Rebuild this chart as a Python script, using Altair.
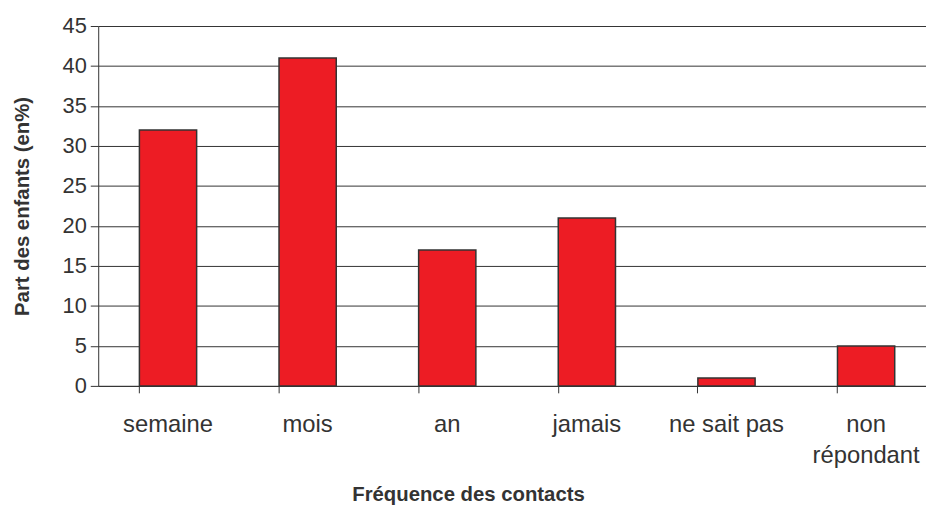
import altair as alt
import pandas as pd

categories = ["semaine", "mois", "an", "jamais", "ne sait pas", "non répondant"]
values = [32, 41, 17, 21, 1, 5]
y_ticks = [0, 5, 10, 15, 20, 25, 30, 35, 40, 45]

df = pd.DataFrame({"cat": categories, "val": values})

FONT = "Liberation Sans"
DARK = "#333333"

xscale = alt.Scale(domain=categories, paddingInner=0.59, paddingOuter=0.295)
yscale = alt.Scale(domain=[0, 45], nice=False)

yaxis = alt.Axis(title="Part des enfants (en%)", values=y_ticks, grid=True,
                 gridColor=DARK, gridWidth=1, gridOpacity=1, domainColor=DARK, tickColor=DARK,
                 tickSize=8, labelFont=FONT, labelFontSize=22, labelColor=DARK,
                 labelPadding=4, titleFont=FONT, titleFontSize=20.5,
                 titleFontWeight="bold", titleColor=DARK, titlePadding=30)

bars = alt.Chart(df).mark_bar(color="#ED1C24", stroke=DARK, strokeWidth=1.5).encode(
    x=alt.X("cat:N", sort=categories, scale=xscale,
            axis=alt.Axis(title="Fréquence des contacts", orient="bottom", ticks=False, domain=True,
                          domainColor=DARK, labelAngle=0, labelFont=FONT, labelFontSize=24,
                          labelColor=DARK, labelPadding=27, labelLineHeight=31,
                          labelExpr="datum.label == 'non répondant' ? ['non', 'répondant'] : datum.label",
                          titleFont=FONT, titleFontSize=20.5, titleFontWeight="bold",
                          titleColor=DARK, titlePadding=18, titleX=373)),
    y=alt.Y("val:Q", scale=yscale, axis=yaxis),
)

ticks_layer = alt.Chart(df).mark_bar(opacity=0).encode(
    x=alt.X("cat:N", sort=categories, scale=xscale,
            axis=alt.Axis(title=None, orient="bottom", labels=False, domain=False, ticks=True,
                          tickColor=DARK, tickSize=7, bandPosition=0, grid=False)),
    y=alt.Y("val:Q", scale=yscale, axis=yaxis),
)

chart = alt.layer(bars, ticks_layer).resolve_axis(x="independent").properties(
    width=845, height=363,
    autosize=alt.AutoSizeParams(type="none"),
    padding={"left": 91, "top": 16, "right": -10, "bottom": 120},
).configure_view(stroke=None)

chart.save("out.html", embed_options={"renderer": "svg", "actions": False})
